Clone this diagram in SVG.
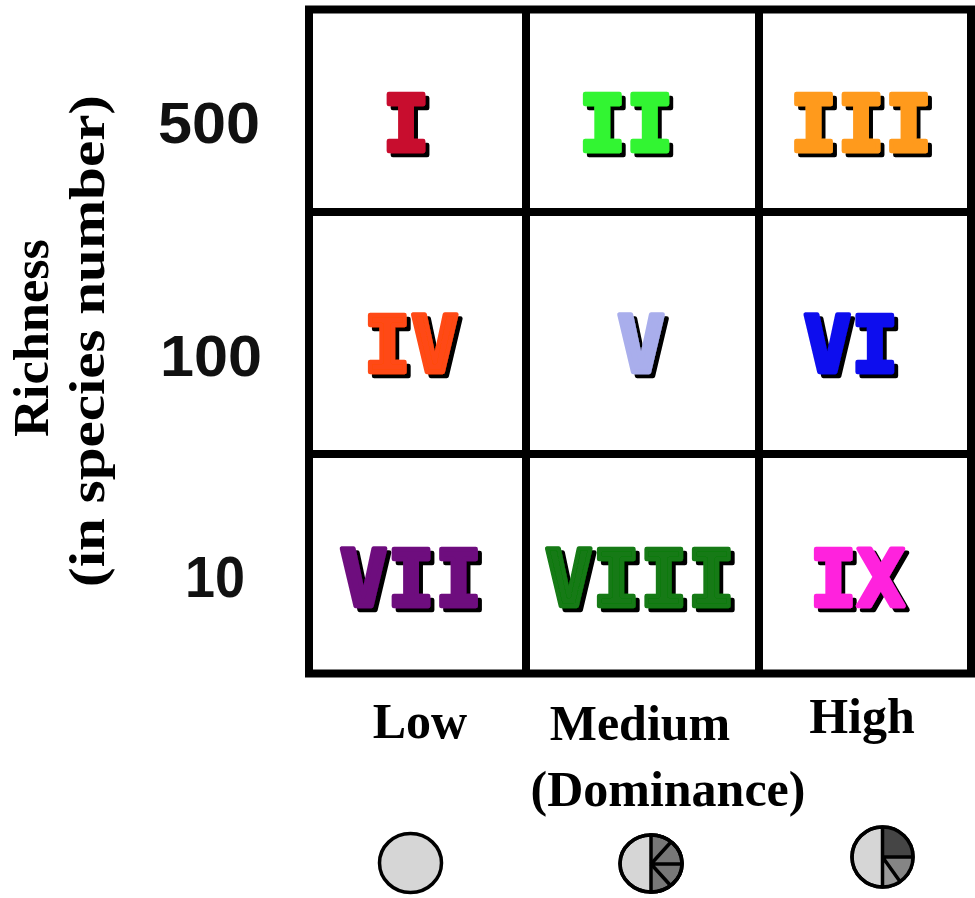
<svg xmlns="http://www.w3.org/2000/svg" width="975" height="898" viewBox="0 0 975 898">
  <style>
    .grid { fill: none; stroke: #000; stroke-width: 8; }
    .num { font-family: "DejaVu Sans Mono", monospace; font-weight: bold; font-size: 79px; text-anchor: middle; stroke-width: 4.5; stroke-linejoin: round; filter: url(#drop); }
    .rowlab { font-family: "Liberation Sans", Arial, sans-serif; font-weight: bold; font-size: 57px; fill: #111; }
    .axis { font-family: "Liberation Serif", "Times New Roman", serif; font-weight: bold; font-size: 50px; fill: #000; text-anchor: middle; }
    .pie { stroke: #000; stroke-width: 3.5; }
    .light { fill: #d6d6d6; }
  </style>
  <defs>
    <!-- black offset shadow behind the cell numerals -->
    <filter id="drop" x="-10%" y="-10%" width="130%" height="130%">
      <feOffset in="SourceAlpha" dx="4" dy="4" result="off"/>
      <feMerge>
        <feMergeNode in="off"/>
        <feMergeNode in="SourceGraphic"/>
      </feMerge>
    </filter>
  </defs>

  <rect width="975" height="898" fill="#fff"/>

  <!-- 3x3 matrix -->
  <g id="matrix">
    <rect class="grid" x="309" y="9.5" width="662" height="664"/>
    <line class="grid" x1="526" y1="9.5" x2="526" y2="673.5"/>
    <line class="grid" x1="759" y1="9.5" x2="759" y2="673.5"/>
    <line class="grid" x1="309" y1="212" x2="971" y2="212"/>
    <line class="grid" x1="309" y1="454" x2="971" y2="454"/>
  </g>

  <!-- cell numerals -->
  <g id="cell-I"><text class="num" x="406" y="151" fill="#c8102e" stroke="#c8102e">I</text></g>
  <g id="cell-II"><text class="num" x="626" y="151" fill="#33f533" stroke="#33f533">II</text></g>
  <g id="cell-III"><text class="num" x="861" y="151" fill="#ff9a1f" stroke="#ff9a1f">III</text></g>
  <g id="cell-IV"><text class="num" x="411" y="372" fill="#ff4a12" stroke="#ff4a12">IV</text></g>
  <g id="cell-V"><text class="num" x="641" y="372" fill="#a9aeec" stroke="#a9aeec">V</text></g>
  <g id="cell-VI"><text class="num" x="851" y="372" fill="#0a0aee" stroke="#0a0aee">VI</text></g>
  <g id="cell-VII"><text class="num" x="411" y="606" fill="#6e0a7e" stroke="#6e0a7e">VII</text></g>
  <g id="cell-VIII"><text class="num" x="640" y="606" fill="#127a12" stroke="#127a12">VIII</text></g>
  <g id="cell-IX"><text class="num" x="857" y="606" fill="#ff22dd" stroke="#ff22dd">IX</text></g>

  <!-- row values -->
  <g id="row-labels">
    <text class="rowlab" x="158" y="143" textLength="102" lengthAdjust="spacingAndGlyphs">500</text>
    <text class="rowlab" x="160" y="376" textLength="102" lengthAdjust="spacingAndGlyphs">100</text>
    <text class="rowlab" x="185" y="597" textLength="60" lengthAdjust="spacingAndGlyphs">10</text>
  </g>

  <!-- vertical axis title -->
  <g id="y-axis" transform="translate(0,338) rotate(-90)">
    <text class="axis" x="0" y="48" textLength="198" lengthAdjust="spacingAndGlyphs">Richness</text>
    <text class="axis" x="-3" y="104" textLength="492" lengthAdjust="spacingAndGlyphs">(in species number)</text>
  </g>

  <!-- column titles -->
  <g id="x-axis">
    <text class="axis" x="420" y="738">Low</text>
    <text class="axis" x="640" y="740">Medium</text>
    <text class="axis" x="862" y="733">High</text>
    <text class="axis" x="668" y="806">(Dominance)</text>
  </g>

  <!-- dominance pies -->
  <g id="pie-low">
    <ellipse class="pie light" cx="410.5" cy="863" rx="31" ry="29.5"/>
  </g>
  <g id="pie-medium">
    <ellipse class="pie light" cx="651" cy="863.5" rx="31" ry="28.5"/>
    <path class="pie" fill="#777" d="M651,835 A31,28.5 0 0 1 651,892 Z"/>
    <path class="pie" fill="none" d="M651,864 L671,842 M651,864 L682,864 M651,864 L671,886"/>
    <ellipse class="pie" fill="none" cx="651" cy="863.5" rx="31" ry="28.5"/>
  </g>
  <g id="pie-high">
    <ellipse class="pie light" cx="882.5" cy="857" rx="30.5" ry="30"/>
    <path fill="#454545" d="M882.5,857 L882.5,827 A30.5,30 0 0 1 913,857 Z"/>
    <path fill="#858585" d="M882.5,857 L913,857 A30.5,30 0 0 1 900,881.5 Z"/>
    <path fill="#9a9a9a" d="M882.5,857 L900,881.5 A30.5,30 0 0 1 882.5,887 Z"/>
    <path class="pie" fill="none" d="M882.5,827 L882.5,887 M882.5,857 L913,857 M882.5,857 L900,881.5"/>
    <ellipse class="pie" fill="none" cx="882.5" cy="857" rx="30.5" ry="30"/>
  </g>
</svg>
